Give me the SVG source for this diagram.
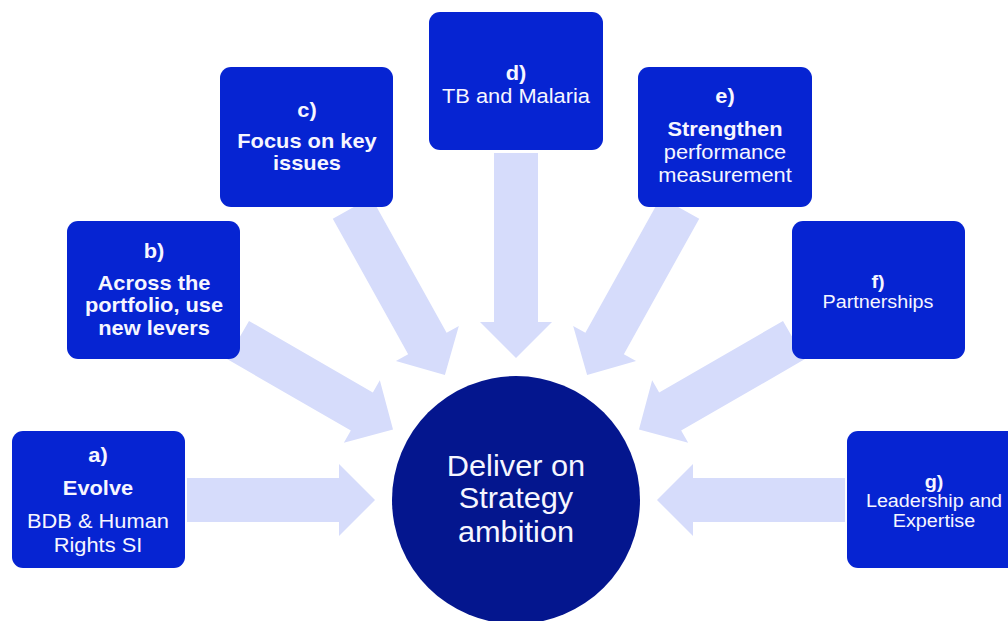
<svg xmlns="http://www.w3.org/2000/svg" width="1008" height="621" viewBox="0 0 1008 621">
<defs>
<style>
.box{fill:#0624d2;}
.hub{fill:#04168e;}
.arr{fill:#d6dcfb;}
text{font-family:"Liberation Sans",Arial,sans-serif;fill:#f6f6ff;text-anchor:middle;}
.t{font-size:19.5px;}
.s{font-size:17.5px;}
.b{font-weight:bold;}
.c{font-size:29px;}
</style>
<path id="ar188" d="M0,-22 L152,-22 L152,-36 L188,0 L152,36 L152,22 L0,22 Z"/>
<path id="ar205" d="M0,-22 L169,-22 L169,-36 L205,0 L169,36 L169,22 L0,22 Z"/>
<path id="ar179" d="M0,-22 L143,-22 L143,-36 L179,0 L143,36 L143,22 L0,22 Z"/>
<path id="ar191" d="M0,-22 L155,-22 L155,-36 L191,0 L155,36 L155,22 L0,22 Z"/>
</defs>
<rect width="1008" height="621" fill="#ffffff"/>
<g id="connectors">
<use href="#ar188" class="arr" transform="translate(187,500)"/>
<use href="#ar179" class="arr" transform="translate(238,340) rotate(30)"/>
<use href="#ar191" class="arr" transform="translate(352,208) rotate(60.9)"/>
<use href="#ar205" class="arr" transform="translate(516,153) rotate(90)"/>
<use href="#ar191" class="arr" transform="translate(680,208) rotate(119.1)"/>
<use href="#ar179" class="arr" transform="translate(794,340) rotate(150)"/>
<use href="#ar188" class="arr" transform="translate(845,500) rotate(180)"/>
</g>
<g id="node-a">
<rect class="box" x="12" y="431" width="173" height="137" rx="11"/>
<g transform="translate(98,0) scale(1.12,1)">
<text class="t b" x="0" y="462">a)</text>
<text class="t b" x="0" y="495">Evolve</text>
<text class="t" x="0" y="528">BDB &amp; Human</text>
<text class="t" x="0" y="552">Rights SI</text>
</g>
</g>
<g id="node-b">
<rect class="box" x="67" y="221" width="173" height="138" rx="11"/>
<g transform="translate(154,0) scale(1.12,1)">
<text class="t b" x="0" y="258">b)</text>
<text class="t b" x="0" y="290">Across the</text>
<text class="t b" x="0" y="312">portfolio, use</text>
<text class="t b" x="0" y="335">new levers</text>
</g>
</g>
<g id="node-c">
<rect class="box" x="220" y="67" width="173" height="140" rx="11"/>
<g transform="translate(307,0) scale(1.12,1)">
<text class="t b" x="0" y="117">c)</text>
<text class="t b" x="0" y="148">Focus on key</text>
<text class="t b" x="0" y="170">issues</text>
</g>
</g>
<g id="node-d">
<rect class="box" x="429" y="12" width="174" height="138" rx="11"/>
<g transform="translate(516,0) scale(1.12,1)">
<text class="t b" x="0" y="80">d)</text>
<text class="t" x="0" y="103">TB and Malaria</text>
</g>
</g>
<g id="node-e">
<rect class="box" x="638" y="67" width="174" height="140" rx="11"/>
<g transform="translate(725,0) scale(1.12,1)">
<text class="t b" x="0" y="103">e)</text>
<text class="t b" x="0" y="136">Strengthen</text>
<text class="t" x="0" y="159">performance</text>
<text class="t" x="0" y="182">measurement</text>
</g>
</g>
<g id="node-f">
<rect class="box" x="792" y="221" width="173" height="138" rx="11"/>
<g transform="translate(878,0) scale(1.13,1)">
<text class="s b" x="0" y="288">f)</text>
<text class="s" x="0" y="308">Partnerships</text>
</g>
</g>
<g id="node-g">
<rect class="box" x="847" y="431" width="173" height="137" rx="11"/>
<g transform="translate(934,0) scale(1.13,1)">
<text class="s b" x="0" y="488">g)</text>
<text class="s" x="0" y="507">Leadership and</text>
<text class="s" x="0" y="527">Expertise</text>
</g>
</g>
<g id="hub">
<circle class="hub" cx="516" cy="500" r="124"/>
<g transform="translate(516,0) scale(1.06,1)">
<text class="c" x="0" y="476">Deliver on</text>
<text class="c" x="0" y="508">Strategy</text>
<text class="c" x="0" y="542">ambition</text>
</g>
</g>
</svg>
